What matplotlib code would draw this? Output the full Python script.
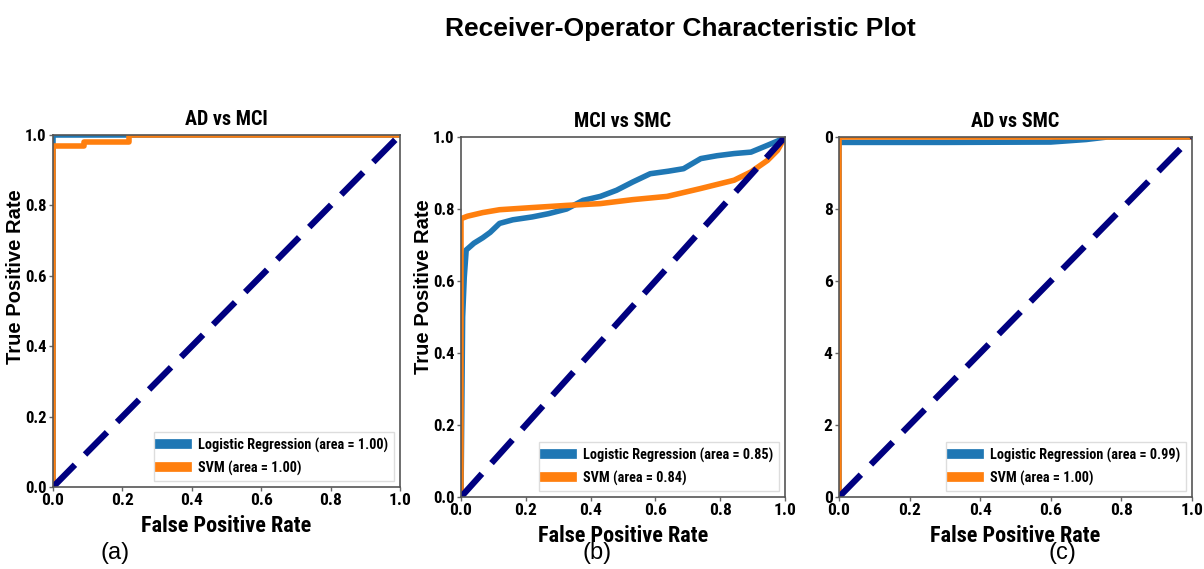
import os
import numpy as np
import matplotlib.pyplot as plt
from matplotlib import font_manager as fm
from matplotlib.font_manager import FontProperties

# ROC curves
a_lr_fpr = [0.0, 0.0, 1.0]
a_lr_tpr = [0.0, 1.0, 1.0]
a_svm_fpr = [0.0, 0.0, 0.09, 0.09, 0.22, 0.22, 1.0]
a_svm_tpr = [0.0, 0.97, 0.97, 0.98, 0.98, 1.0, 1.0]

b_lr_fpr = [0.0, 0.005, 0.01, 0.016, 0.04, 0.067, 0.09, 0.119, 0.16, 0.22, 0.27, 0.326,
            0.377, 0.43, 0.48, 0.53, 0.584, 0.64, 0.687, 0.74, 0.79, 0.843, 0.895, 0.946, 0.98, 1.0]
b_lr_tpr = [0.0, 0.5, 0.61, 0.686, 0.705, 0.72, 0.735, 0.76, 0.77, 0.778, 0.787, 0.80,
            0.824, 0.835, 0.852, 0.875, 0.898, 0.905, 0.912, 0.94, 0.948, 0.954, 0.958, 0.977, 0.99, 1.0]
b_svm_fpr = [0.0, 0.0, 0.02, 0.067, 0.119, 0.22, 0.326, 0.43, 0.53, 0.636, 0.74, 0.843,
             0.895, 0.946, 0.977, 1.0]
b_svm_tpr = [0.0, 0.773, 0.78, 0.79, 0.798, 0.804, 0.81, 0.815, 0.826, 0.835, 0.857, 0.88,
             0.903, 0.935, 0.963, 1.0]

c_lr_fpr = [0.0, 0.0, 0.3, 0.6, 0.7, 0.76, 1.0]
c_lr_tpr = [0.0, 0.985, 0.985, 0.986, 0.993, 1.0, 1.0]
c_svm_fpr = [0.0, 0.0, 1.0]
c_svm_tpr = [0.0, 1.0, 1.0]

titles = ['AD vs MCI', 'MCI vs SMC', 'AD vs SMC']
lr_labels = ['Logistic Regression (area = 1.00)', 'Logistic Regression (area = 0.85)',
             'Logistic Regression (area = 0.99)']
svm_labels = ['SVM (area = 1.00)', 'SVM (area = 0.84)', 'SVM (area = 1.00)']
panel_tags = ['(a)', '(b)', '(c)']
ticks = [0.0, 0.2, 0.4, 0.6, 0.8, 1.0]
tick_labels = ['0.0', '0.2', '0.4', '0.6', '0.8', '1.0']
c_ytick_labels = ['0', '2', '4', '6', '8', '0']

curves = [
    (a_lr_fpr, a_lr_tpr, a_svm_fpr, a_svm_tpr),
    (b_lr_fpr, b_lr_tpr, b_svm_fpr, b_svm_tpr),
    (c_lr_fpr, c_lr_tpr, c_svm_fpr, c_svm_tpr),
]


# look for a condensed bold face, like the narrow font in the original
def find_narrow_bold():
    prefs = ['liberationsansnarrow-bold.', 'robotocondensed-bold.', 'dejavusanscondensed-bold.',
             'opensans_condensed-bold', 'opensanscondensed-bold']
    files = [f.fname for f in fm.fontManager.ttflist]
    for p in prefs:
        for f in files:
            if os.path.basename(f).lower().startswith(p):
                return f
    return None


narrow_path = find_narrow_bold()


def nfont(size):
    if narrow_path:
        return FontProperties(fname=narrow_path, size=size)
    return FontProperties(family=['Liberation Sans', 'DejaVu Sans'], weight='bold', size=size * 0.85)


wide_b = FontProperties(family=['Liberation Sans', 'DejaVu Sans'], weight='bold', size=14.5)

fig = plt.figure(figsize=(12.04, 5.69), dpi=100)
W, H = 1204.0, 569.0
# axes boxes in pixels: left, right, top, bottom
boxes = [(53, 400, 135, 487), (461, 785, 137, 497), (839, 1192, 137, 497)]
ylab_x = [25, 433]
ylab_y = [0.597, 0.583]
tag_x = [115, 597, 1062]

for i, (l, r, t, b) in enumerate(boxes):
    ax = fig.add_axes([l / W, 1 - b / H, (r - l) / W, (b - t) / H])
    lr_x, lr_y, svm_x, svm_y = curves[i]
    ax.plot(lr_x, lr_y, color='#1f77b4', lw=4, label=lr_labels[i])
    ax.plot(svm_x, svm_y, color='#ff7f0e', lw=4, label=svm_labels[i])
    ax.plot([0, 1], [0, 1], color='navy', lw=4.5, linestyle='--', dashes=(5, 2.3))
    ax.set_xlim(0, 1)
    ax.set_ylim(0, 1)
    ax.set_xticks(ticks)
    ax.set_xticklabels(tick_labels, fontproperties=nfont(12.5))
    ax.set_yticks(ticks)
    if i == 2:
        ax.set_yticklabels(c_ytick_labels, fontproperties=nfont(12.5))
    else:
        ax.set_yticklabels(tick_labels, fontproperties=nfont(12))
    ax.tick_params(length=3, width=1, color='#666666', pad=1.5)
    for s in ax.spines.values():
        s.set_color('#555555')
        s.set_linewidth(1.2)
    ax.set_title(titles[i], fontproperties=nfont(14.5), pad=7)
    ax.set_xlabel('False Positive Rate', fontproperties=nfont(16), labelpad=5)
    if i < 2:
        ax.set_ylabel('True Positive Rate', fontproperties=wide_b)
        ax.yaxis.set_label_coords((ylab_x[i] - l) / (r - l), ylab_y[i])
    leg = ax.legend(loc='lower right', prop=nfont(10.3), handlelength=1.9, labelspacing=0.55,
                    borderaxespad=0.4, fancybox=False, framealpha=1, edgecolor='#dddddd')
    for h in leg.get_lines():
        h.set_linewidth(7)
    fig.text(tag_x[i] / W, 1 - 553 / H, panel_tags[i], fontsize=17,
             family=['Liberation Sans', 'DejaVu Sans'], ha='center', va='center')

fig.text(680 / W, 1 - 29 / H, 'Receiver-Operator Characteristic Plot', fontsize=19, weight='bold',
         family=['Liberation Sans', 'DejaVu Sans'], ha='center', va='center')

fig.savefig('out.png', dpi=100)
